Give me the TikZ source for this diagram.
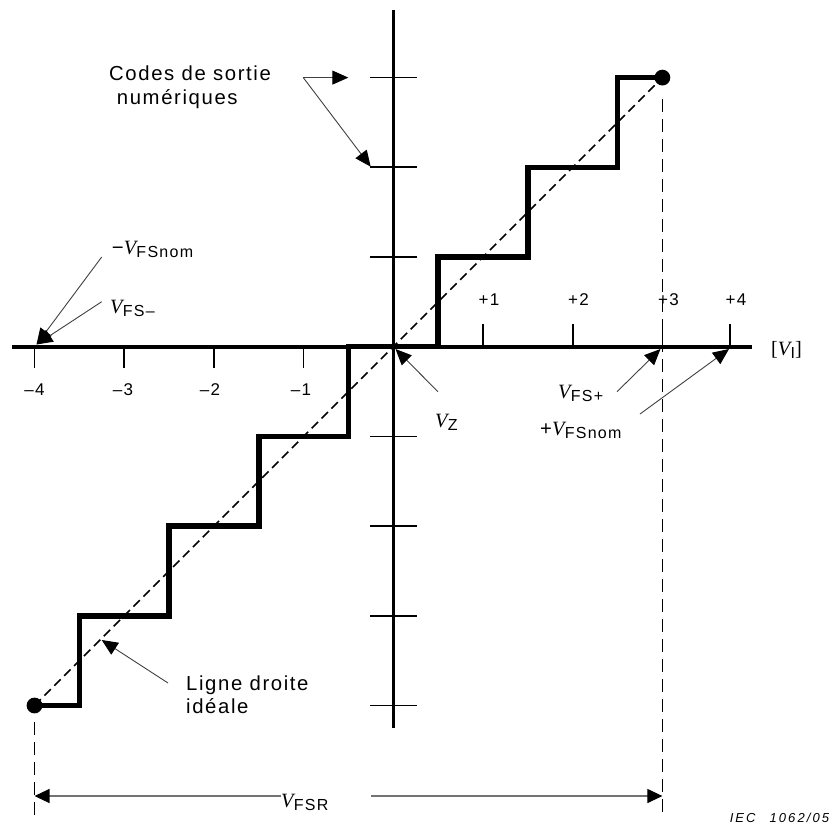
\documentclass[tikz,border=0pt]{standalone}
\usepackage{fontspec}
\setmainfont{Liberation Sans}[LetterSpace=8]
\newfontfamily\serfam{Liberation Serif}
\newfontfamily\iecfont{Liberation Sans}[LetterSpace=16]
\usetikzlibrary{arrows.meta}
\newcommand{\VV}[1]{{\serfam\itshape V}\kern0.3pt\raisebox{-3pt}{\fontsize{16}{16}\selectfont #1}}
\begin{document}
\begin{tikzpicture}[x=1pt,y=-1pt,
  axis/.style={line width=3.6pt},
  tickl/.style={line width=1.7pt},
  stair/.style={line width=5.5pt, line join=miter},
  ideal/.style={line width=1.6pt, dash pattern=on 9pt off 5pt},
  guide/.style={line width=1.8pt, dash pattern=on 13pt off 7pt},
  ann/.style={line width=0.9pt, draw=black!75, -{Triangle[length=16pt,width=14pt,color=black]}},
  dimarr/.style={line width=1.1pt, draw=black!55, -{Triangle[length=15pt,width=14pt,color=black]}},
  lbl/.style={inner sep=0pt, anchor=base west, font=\fontsize{20.3}{23}\selectfont},
  num/.style={inner sep=0pt, anchor=base, font=\fontsize{17}{17}\selectfont},
  dotn/.style={circle, fill=black, inner sep=0pt, minimum size=15.8pt}]
\useasboundingbox (0,0) rectangle (835,836);

% axes
\coordinate (xl) at (12,346.7);
\coordinate (xr) at (751.7,346.7);
\coordinate (yt) at (393.3,10);
\coordinate (yb) at (393.3,728);
\draw[axis] (xl) -- (xr);
\draw[axis] (yt) -- (yb);

% x ticks
\foreach \x in {34.5,124.2,213.9,303.6}
  \draw[tickl] (\x,346.7) -- (\x,368);
\foreach \x in {483,572.7,662.4,730}
  \draw[tickl] (\x,324) -- (\x,346.7);
% y ticks
\foreach \y in {77.6,167.3,257,436.4,526.1,615.8,705.5}
  \draw[tickl] (370,\y) -- (416.7,\y);

% tick labels
\node[num] (nm4) at (34.5,395) {–4};
\node[num] (nm3) at (123,395) {–3};
\node[num] (nm2) at (210,395) {–2};
\node[num] (nm1) at (301,395) {–1};
\node[num] (np1) at (489,305) {+1};
\node[num] (np2) at (578.5,305) {+2};
\node[num] (np3) at (668.5,305) {+3};
\node[num] (np4) at (736,305) {+4};

% end points
\node[dotn] (d1) at (34.5,705.5) {};
\node[dotn] (d2) at (662.4,77.6) {};

% ideal line
\draw[ideal] (d1.center) -- (d2.center);

% staircase
\draw[stair] (d1.center) -- (79.35,705.5) -- (79.35,615.8) -- (169.05,615.8) -- (169.05,526.1)
  -- (258.75,526.1) -- (258.75,436.4) -- (348.45,436.4) -- (348.45,346.7) -- (438.15,346.7)
  -- (438.15,257) -- (527.85,257) -- (527.85,167.3) -- (617.55,167.3) -- (617.55,77.6) -- (d2.center);

% guide lines
\coordinate (g1t) at (34.5,722);
\coordinate (g1b) at (34.5,818);
\coordinate (g2t) at (662.4,99);
\coordinate (g2b) at (662.4,818);
\draw[guide] (g1t) -- (g1b);
\draw[guide] (g2t) -- (g2b);

% V_FSR dimension
\node[lbl] (vfsr) at (281,807.7) {\VV{FSR}};
\coordinate (dimL) at (34.5,796);
\coordinate (dimR) at (662.4,796);
\coordinate (dimLb) at (281,796);
\coordinate (dimRb) at (371,796);
\draw[dimarr] (dimLb) -- (dimL);
\draw[dimarr] (dimRb) -- (dimR);

% Codes de sortie
\node[lbl] (codes1) at (109,80.7) {Codes de sortie};
\node[lbl] (codes2) at (116.7,104) {numériques};
\coordinate (cj) at (303.3,77.6);
\coordinate (ct1) at (348.3,77.6);
\coordinate (ct2) at (370.7,166.7);
\draw[ann] (cj) -- (ct1);
\draw[ann] (cj) -- (ct2);

% Ligne droite ideale
\node[lbl] (lig1) at (186,690) {Ligne droite};
\node[lbl] (lig2) at (186,713) {idéale};
\coordinate (ls) at (168,683);
\coordinate (lt) at (101.7,640);
\draw[ann] (ls) -- (lt);

% -V_FSnom and V_FS-
\node[lbl] (fsnomm) at (111.7,254) {−\VV{FSnom}};
\node[lbl] (fsm) at (110,313) {\VV{FS–}};
\coordinate (a1s) at (101.7,257);
\coordinate (a2s) at (101.7,301.7);
\coordinate (pm4) at (36.5,344.5);
\draw[ann] (a1s) -- (pm4);
\draw[ann] (a2s) -- (pm4);

% V_Z
\node[lbl] (vz) at (435,427) {\VV{Z}};
\coordinate (zs) at (438,391.7);
\coordinate (zt) at (395.5,349);
\draw[ann] (zs) -- (zt);

% V_FS+ and +V_FSnom
\node[lbl] (fsp) at (558,398) {\VV{FS+}};
\node[lbl] (fsnomp) at (540,435) {+\VV{FSnom}};
\coordinate (ps) at (617,391.7);
\coordinate (pt) at (660.5,349);
\coordinate (qs) at (640,414);
\coordinate (qt) at (729,349);
\draw[ann] (ps) -- (pt);
\draw[ann] (qs) -- (qt);

% axis label
\node[lbl] (vi) at (771,355) {{\serfam [}\VV{I}{\serfam ]}};

% reference
\node[inner sep=0pt, anchor=base east, font=\iecfont\fontsize{13}{13}\selectfont\itshape] (iec) at (829.3,822) {IEC\hspace{14pt}1062/05};
\end{tikzpicture}
\end{document}
